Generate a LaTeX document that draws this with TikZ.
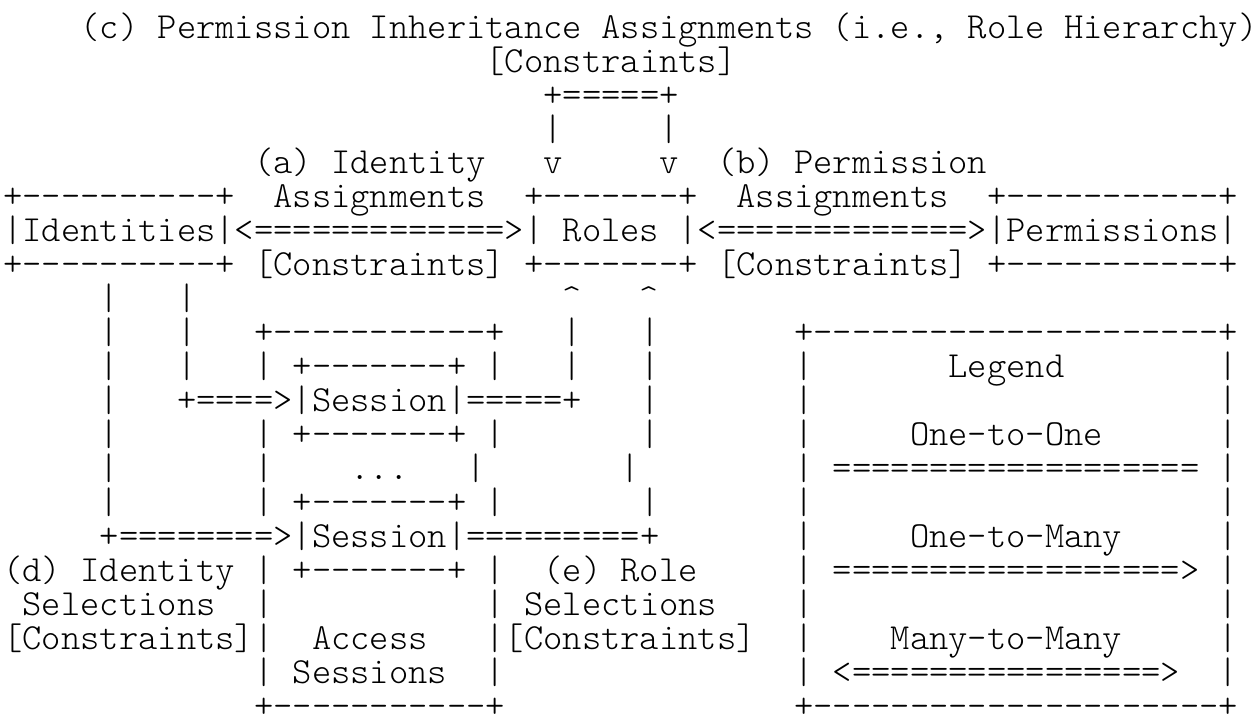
\documentclass[tikz,border=0pt]{standalone}
\usepackage{fontspec}
\usepackage{tikz}

\newfontfamily\asciifont{lmmonolt10-regular.otf}[Ligatures=TeXOff]
\newcommand\blank[1]{\hspace*{#1\fontcharwd\font`M}}

\begin{document}
\begin{tikzpicture}[x=14.4675pt, y=25.5pt,
	row/.style={anchor=base west, inner sep=0pt, outer sep=0pt, text depth=0pt, font=\fontsize{27.56}{30}\selectfont\asciifont}]
	\useasboundingbox (-0.176, -20.118) rectangle (64.886, 1.118);
	% Rows of the chart:
	\node[row](R1) at (0, 0){\blank{4}(c) Permission Inheritance Assignments (i.e., Role Hierarchy)};
	\node[row](R2) at (0, -1){\blank{25}[Constraints]};
	\node[row](R3) at (0, -2){\blank{28}+=====+};
	\node[row](R4) at (0, -3){\blank{28}|\blank{5}|};
	\node[row](R5) at (0, -4){\blank{13}(a) Identity\blank{3}v\blank{5}v\blank{2}(b) Permission};
	\node[row](R6) at (0, -5){+----------+\blank{2}Assignments\blank{2}+-------+\blank{2}Assignments\blank{2}+-----------+};
	\node[row](R7) at (0, -6){|Identities|<=============>| Roles |<=============>|Permissions|};
	\node[row](R8) at (0, -7){+----------+ [Constraints] +-------+ [Constraints] +-----------+};
	\node[row](R9) at (0, -8){\blank{5}|\blank{3}|\blank{19}\textasciicircum\blank{3}\textasciicircum};
	\node[row](R10) at (0, -9){\blank{5}|\blank{3}|\blank{3}+-----------+\blank{3}|\blank{3}|\blank{7}+---------------------+};
	\node[row](R11) at (0, -10){\blank{5}|\blank{3}|\blank{3}| +-------+ |\blank{3}|\blank{3}|\blank{7}|\blank{7}Legend\blank{8}|};
	\node[row](R12) at (0, -11){\blank{5}|\blank{3}+====>|Session|=====+\blank{3}|\blank{7}|\blank{21}|};
	\node[row](R13) at (0, -12){\blank{5}|\blank{7}| +-------+ |\blank{7}|\blank{7}|\blank{5}One-to-One\blank{6}|};
	\node[row](R14) at (0, -13){\blank{5}|\blank{7}|\blank{4}...\blank{3}|\blank{7}|\blank{8}| =================== |};
	\node[row](R15) at (0, -14){\blank{5}|\blank{7}| +-------+ |\blank{7}|\blank{7}|\blank{21}|};
	\node[row](R16) at (0, -15){\blank{5}+========>|Session|=========+\blank{7}|\blank{5}One-to-Many\blank{5}|};
	\node[row](R17) at (0, -16){(d) Identity | +-------+ |\blank{2}(e) Role\blank{5}| ==================> |};
	\node[row](R18) at (0, -17){\blank{1}Selections\blank{2}|\blank{11}| Selections\blank{4}|\blank{21}|};
	\node[row](R19) at (0, -18){[Constraints]|\blank{2}Access\blank{3}|[Constraints]\blank{2}|\blank{4}Many-to-Many\blank{5}|};
	\node[row](R20) at (0, -19){\blank{13}| Sessions\blank{2}|\blank{15}| <================>\blank{2}|};
	\node[row](R21) at (0, -20){\blank{13}+-----------+\blank{15}+---------------------+};
\end{tikzpicture}
\end{document}
